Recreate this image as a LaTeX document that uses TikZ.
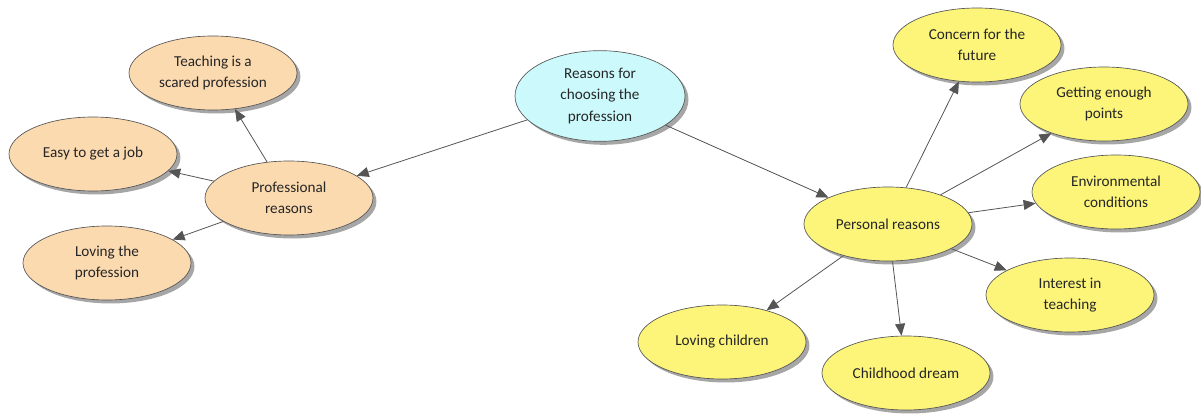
\documentclass[tikz,border=0pt]{standalone}
\usepackage{fontspec}
\setmainfont{Carlito}
\usetikzlibrary{shapes.geometric,arrows.meta,shadows}
\definecolor{rootfill}{RGB}{204,250,252}
\definecolor{profill}{RGB}{252,218,176}
\definecolor{perfill}{RGB}{252,245,122}
\definecolor{edgegray}{RGB}{85,85,85}
\begin{document}
\begin{tikzpicture}[x=0.75pt,y=-0.75pt,
  bubble/.style={ellipse,draw=edgegray,line width=0.5pt,inner sep=0pt,
    minimum width=126pt,minimum height=55.5pt,align=center,
    font=\fontsize{11.4}{15.8}\selectfont,text=black!85,
    drop shadow={shadow xshift=2.6pt,shadow yshift=-2.6pt,fill=black,opacity=0.35}},
  rootnode/.style={bubble,fill=rootfill,minimum width=127.5pt,minimum height=68pt},
  pronode/.style={bubble,fill=profill},
  pernode/.style={bubble,fill=perfill},
  link/.style={draw=edgegray,line width=0.6pt,-{Triangle[length=9pt,width=7.5pt]}}]
\useasboundingbox (0,0) rectangle (1201,416);
% centre
\node[rootnode] (root) at (600,96) {Reasons for\\choosing the\\profession};
% professional branch
\node[pronode] (prof) at (289,198) {Professional\\reasons};
\node[pronode] (sacred) at (213,73) {Teaching is a\\scared profession};
\node[pronode] (easy) at (93,154) {Easy to get a job};
\node[pronode] (lovprof) at (107,263) {Loving the\\profession};
% personal branch
\node[pernode] (pers) at (888,224) {Personal reasons};
\node[pernode] (future) at (977,45) {Concern for the\\future};
\node[pernode] (points) at (1104,104) {Getting enough\\points};
\node[pernode] (env) at (1116,192) {Environmental\\conditions};
\node[pernode] (interest) at (1070,295) {Interest in\\teaching};
\node[pernode] (dream) at (906,373) {Childhood dream};
\node[pernode] (kids) at (722,342) {Loving children};
% connectors
\draw[link] (root) -- (prof);
\draw[link] (root) -- (pers);
\draw[link] (prof) -- (sacred);
\draw[link] (prof) -- (easy);
\draw[link] (prof) -- (lovprof);
\draw[link] (pers) -- (future);
\draw[link] (pers) -- (points);
\draw[link] (pers) -- (env);
\draw[link] (pers) -- (interest);
\draw[link] (pers) -- (dream);
\draw[link] (pers) -- (kids);
\end{tikzpicture}
\end{document}
